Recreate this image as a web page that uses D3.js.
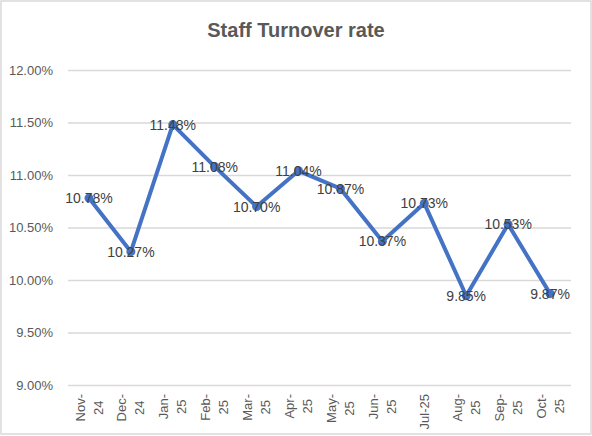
<!DOCTYPE html>
<html>
<head>
<meta charset="utf-8">
<script src="https://cdn.jsdelivr.net/npm/d3@7"></script>
<style>
  body { margin: 0; background: #fff; }
  text { font-family: "Liberation Sans", Arial, sans-serif; }
</style>
</head>
<body>
<div id="chart"></div>
<script>
// data
const months = ["Nov-24", "Dec-24", "Jan-25", "Feb-25", "Mar-25", "Apr-25",
                "May-25", "Jun-25", "Jul-25", "Aug-25", "Sep-25", "Oct-25"];
const tickLabels = [["Nov-", "24"], ["Dec-", "24"], ["Jan-", "25"], ["Feb-", "25"], ["Mar-", "25"], ["Apr-", "25"],
                    ["May-", "25"], ["Jun-", "25"], ["Jul-25"], ["Aug-", "25"], ["Sep-", "25"], ["Oct-", "25"]];
const turnover = [10.78, 10.27, 11.48, 11.08, 10.70, 11.04, 10.87, 10.37, 10.73, 9.85, 10.53, 9.87];
const yTicks = [9.0, 9.5, 10.0, 10.5, 11.0, 11.5, 12.0];

const w = 592, h = 436,
  margin = {top: 70, right: 21, bottom: 51, left: 68};

let svg = d3.select("#chart").append("svg").attr("width", w).attr("height", h);

// chart border
svg.append("rect").attr("x", 1).attr("y", 1).attr("width", w - 2).attr("height", h - 3)
  .attr("fill", "#fff").attr("stroke", "#d9d9d9").attr("stroke-width", 1.5);

// title
svg.append("text").text("Staff Turnover rate")
  .attr("x", w / 2).attr("y", 37).attr("text-anchor", "middle")
  .attr("font-size", 20).attr("font-weight", "bold").attr("fill", "#595959");

//Scales
let x = d3.scaleBand().domain(months).range([margin.left, w - margin.right]);
let y = d3.scaleLinear().domain([9, 12]).range([h - margin.bottom, margin.top]);

//Gridlines + y labels
let yAxis = d3.axisLeft(y).tickValues(yTicks)
  .tickSize(-(w - margin.left - margin.right))
  .tickPadding(15)
  .tickFormat(d => d.toFixed(2) + "%");
let gy = svg.append("g").attr("transform", "translate(" + margin.left + ",0)").call(yAxis);
gy.select(".domain").remove();
gy.selectAll("line").attr("stroke", "#d9d9d9").attr("stroke-width", 1.3);
gy.selectAll("text").attr("font-size", 13).attr("fill", "#595959")
  .attr("font-family", "Liberation Sans, Arial, sans-serif");

//X labels, rotated, wrapped like Excel does
let labelTop = h - margin.bottom + 9;
months.forEach(function(m, i) {
  let cx = x(m) + x.bandwidth() / 2;
  let lines = tickLabels[i];
  let g = svg.append("g");
  let texts = lines.map(function(l) {
    return g.append("text").text(l).attr("font-size", 13).attr("fill", "#595959")
      .attr("text-anchor", "middle");
  });
  let maxLen = d3.max(texts, t => t.node().getComputedTextLength());
  let lh = 18;
  g.attr("transform", "translate(" + cx + "," + (labelTop + maxLen / 2) + ") rotate(-90)");
  texts.forEach(function(t, j) {
    let off = (j - (lines.length - 1) / 2) * lh;
    t.attr("x", 0).attr("y", off).attr("dy", "0.35em");
  });
});

//Line
let line = d3.line()
  .x((d, i) => x(months[i]) + x.bandwidth() / 2)
  .y(d => y(d));
svg.append("path").datum(turnover)
  .attr("d", line).attr("fill", "none")
  .attr("stroke", "#4472c4").attr("stroke-width", 4)
  .attr("stroke-linejoin", "round").attr("stroke-linecap", "round");

//Markers
svg.selectAll("circle.pt").data(turnover).enter().append("circle")
  .attr("class", "pt")
  .attr("cx", (d, i) => x(months[i]) + x.bandwidth() / 2)
  .attr("cy", d => y(d))
  .attr("r", 4.5).attr("fill", "#4472c4");

//Data labels, centered on the points
svg.selectAll("text.lbl").data(turnover).enter().append("text")
  .attr("class", "lbl")
  .text(d => d.toFixed(2) + "%")
  .attr("x", (d, i) => x(months[i]) + x.bandwidth() / 2)
  .attr("y", d => y(d)).attr("dy", "0.36em")
  .attr("text-anchor", "middle").attr("font-size", 14).attr("fill", "#404040");
</script>
</body>
</html>
